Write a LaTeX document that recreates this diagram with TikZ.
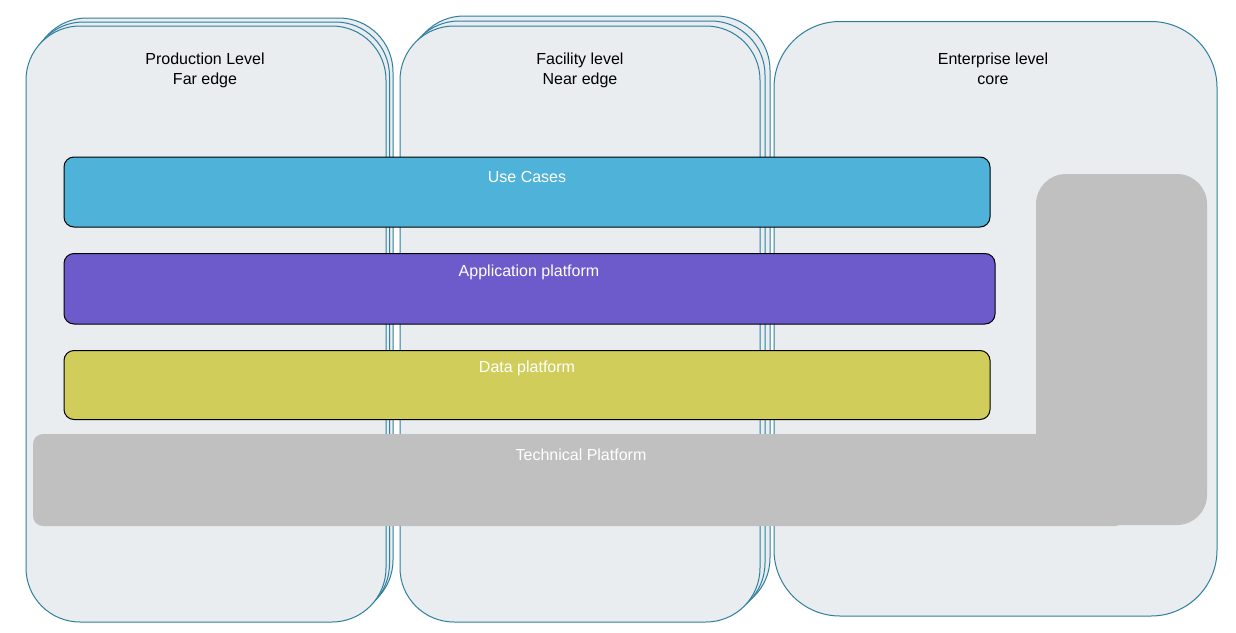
\documentclass[tikz,border=0pt]{standalone}
\usepackage{fontspec}
\setmainfont{Liberation Sans}
\definecolor{colfill}{HTML}{E9EDF0}
\definecolor{colline}{HTML}{2E7F9E}
\definecolor{ucfill}{HTML}{4FB3D9}
\definecolor{apfill}{HTML}{6D5BCC}
\definecolor{dpfill}{HTML}{D0CD5B}
\definecolor{tpfill}{HTML}{C0C0C0}
\begin{document}
\begin{tikzpicture}[x=1pt,y=-1pt,
  colbox/.style={draw=colline, fill=colfill, line width=1pt, rounded corners=54pt},
  bigbox/.style={draw=colline, fill=colfill, line width=1pt, rounded corners=66pt},
  barbox/.style={draw=black, line width=1pt, rounded corners=10pt},
  tpbox/.style={fill=tpfill, draw=none},
  coltext/.style={font=\fontsize{16}{20}\selectfont, align=center, text=black, inner sep=0pt},
  bartext/.style={font=\fontsize{16}{20}\selectfont, text=white, inner sep=0pt}
]
\useasboundingbox (0,0) rectangle (1236,632);
\fill[white] (0,0) rectangle (1236,632);
% column 1 (stacked)
\draw[colbox] (33,18) rectangle (393,614);
\draw[colbox] (29.5,22) rectangle (389.5,618);
\draw[colbox] (26,26) rectangle (386,622);
\node[coltext] (c1t) at (205,70) {Production Level\\Far edge};
% column 2 (stacked)
\draw[colbox] (410,16) rectangle (770,612);
\draw[colbox] (405,21) rectangle (765,617);
\draw[colbox] (400,26) rectangle (760,622);
\node[coltext] (c2t) at (580,70) {Facility level\\Near edge};
% column 3
\draw[bigbox] (774,21.5) rectangle (1217,616);
\node[coltext] (c3t) at (993,69) {Enterprise level\\core};
% bars
\draw[barbox, fill=ucfill] (64,157) rectangle (990,227);
\node[bartext] (uct) at (527,176.5) {Use Cases};
\draw[barbox, fill=apfill] (64,253.5) rectangle (995,324);
\node[bartext] (apt) at (529,272.5) {Application platform};
\draw[barbox, fill=dpfill] (64,350.5) rectangle (990,419.5);
\node[bartext] (dpt) at (527,368.5) {Data platform};
% technical platform
\fill[tpfill, rounded corners=30pt] (1036,174) rectangle (1207,525);
\fill[tpfill, rounded corners=10pt] (33,434) rectangle (1125,526);
\fill[tpfill] (1030,434) rectangle (1100,500);
\node[bartext] (tpt) at (581,454.5) {Technical Platform};
\end{tikzpicture}
\end{document}
